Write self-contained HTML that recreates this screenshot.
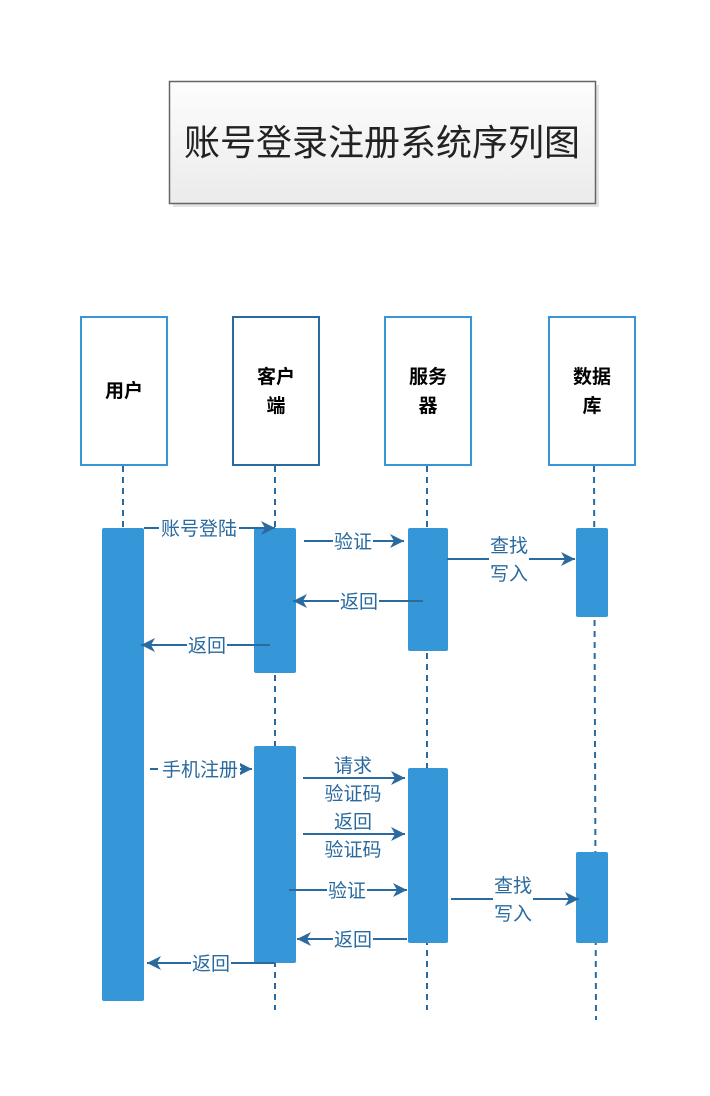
<!DOCTYPE html>
<html><head><meta charset="utf-8"><style>
html,body{margin:0;padding:0;background:#fff;}
svg{display:block;}
text{font-family:"Liberation Sans","Noto Sans CJK SC",sans-serif;}
.l{font-size:19px;fill:#2a6a9e;text-anchor:middle;}
.h{font-size:19px;fill:#000;text-anchor:middle;font-weight:bold;}
</style></head><body>
<svg width="710" height="1096" viewBox="0 0 710 1096" xmlns="http://www.w3.org/2000/svg">
<defs>
<linearGradient id="g" x1="0" y1="0" x2="0" y2="1"><stop offset="0" stop-color="#fdfdfd"/><stop offset="1" stop-color="#ebebeb"/></linearGradient>
<marker id="a" markerWidth="16" markerHeight="14" refX="14" refY="7" orient="auto" markerUnits="userSpaceOnUse"><path d="M0,0 L14,7 L0,14 L4,7 Z" fill="#2a6a9e"/></marker>
</defs>
<rect x="173" y="85" width="426" height="122" fill="#e4e4e4"/>
<rect x="169.5" y="81.5" width="426" height="122" fill="url(#g)" stroke="#666" stroke-width="1.5"/>
<text x="382" y="155" font-size="36" fill="#222" text-anchor="middle">账号登录注册系统序列图</text>

<g fill="#fff" stroke-width="2">
<rect x="81" y="317" width="86" height="148" stroke="#3a95d6"/>
<rect x="233" y="317" width="86" height="148" stroke="#2a6a9e"/>
<rect x="385" y="317" width="86" height="148" stroke="#3a95d6"/>
<rect x="549" y="317" width="86" height="148" stroke="#3a95d6"/>
</g>
<text class="h" x="124" y="397">用户</text>
<text class="h" x="276" y="383">客户</text><text class="h" x="276" y="412">端</text>
<text class="h" x="428" y="383">服务</text><text class="h" x="428" y="412">器</text>
<text class="h" x="592" y="383">数据</text><text class="h" x="592" y="412">库</text>

<g stroke="#2a6a9e" stroke-width="2" stroke-dasharray="6,5">
<line x1="123" y1="466" x2="123" y2="1000"/>
<line x1="275" y1="466" x2="275" y2="1010"/>
<line x1="427" y1="466" x2="427" y2="1010"/>
<line x1="594" y1="466" x2="596" y2="1020"/>
</g>

<g fill="#3596d8">
<rect x="102" y="528" width="42" height="473" rx="2"/>
<rect x="254" y="528" width="42" height="145" rx="2"/>
<rect x="254" y="746" width="42" height="217" rx="2"/>
<rect x="408" y="528" width="40" height="123" rx="2"/>
<rect x="408" y="768" width="40" height="175" rx="2"/>
<rect x="576" y="528" width="32" height="89" rx="2"/>
<rect x="576" y="852" width="32" height="91" rx="2"/>
</g>

<g stroke="#2a6a9e" stroke-width="2" marker-end="url(#a)">
<line x1="144" y1="528" x2="275" y2="528"/>
<line x1="304" y1="541" x2="404" y2="541"/>
<line x1="423" y1="601" x2="293" y2="601"/>
<line x1="270" y1="645" x2="141" y2="645"/>
<line x1="447" y1="559" x2="575" y2="559"/>
<line x1="150" y1="769" x2="252" y2="769"/>
<line x1="303" y1="778" x2="405" y2="778"/>
<line x1="303" y1="834" x2="405" y2="834"/>
<line x1="289" y1="890" x2="407" y2="890"/>
<line x1="407" y1="939" x2="297" y2="939"/>
<line x1="275" y1="963" x2="147" y2="963"/>
<line x1="451" y1="899" x2="579" y2="899"/>
</g>

<g fill="#fff">
<rect x="159" y="518" width="80" height="20"/>
<rect x="333" y="531" width="40" height="20"/>
<rect x="339" y="591" width="40" height="20"/>
<rect x="187" y="635" width="40" height="20"/>
<rect x="489" y="535" width="40" height="48"/>
<rect x="158" y="759" width="82" height="20"/>
<rect x="333" y="755" width="40" height="20"/><rect x="323" y="781" width="60" height="22"/>
<rect x="333" y="811" width="40" height="20"/><rect x="323" y="837" width="60" height="22"/>
<rect x="327" y="880" width="40" height="20"/>
<rect x="333" y="929" width="40" height="20"/>
<rect x="191" y="953" width="40" height="20"/>
<rect x="493" y="875" width="40" height="48"/>
</g>
<g class="l">
<text x="199" y="535">账号登陆</text>
<text x="353" y="548">验证</text>
<text x="359" y="608">返回</text>
<text x="207" y="652">返回</text>
<text x="509" y="552">查找</text><text x="509" y="580">写入</text>
<text x="200" y="776">手机注册</text>
<text x="353" y="772">请求</text><text x="353" y="800">验证码</text>
<text x="353" y="828">返回</text><text x="353" y="856">验证码</text>
<text x="347" y="897">验证</text>
<text x="353" y="946">返回</text>
<text x="211" y="970">返回</text>
<text x="513" y="892">查找</text><text x="513" y="920">写入</text>
</g>
</svg>
</body></html>
